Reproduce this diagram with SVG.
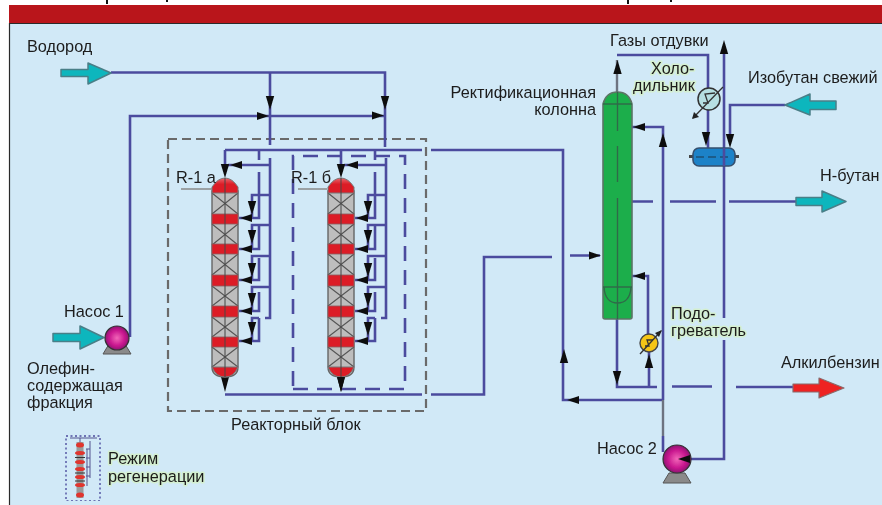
<svg xmlns="http://www.w3.org/2000/svg" width="882" height="505" viewBox="0 0 882 505">
<style>
text{font-family:"Liberation Sans",Arial,sans-serif;font-size:16.300px;fill:#1c1c1c}
.halo{paint-order:stroke;stroke:#d4efd0;stroke-width:3px;stroke-linejoin:round}
.p{fill:none;stroke:#4c4c9e;stroke-width:2.6}
.pg{fill:none;stroke:#6d7380;stroke-width:2.4}
.d{fill:none;stroke:#4c4c9e;stroke-width:2.6;stroke-dasharray:15 9}
.box{fill:none;stroke:#6a6a6a;stroke-width:2.2;stroke-dasharray:9 5}
.cy{fill:#10b6bd;stroke:#4a7f88;stroke-width:1.5;stroke-linejoin:round}
.rd{fill:#ee2024;stroke:#8a6a6a;stroke-width:1.2;stroke-linejoin:round}
.vr{fill:#dc1f28;stroke:#8a5a5a;stroke-width:.8}
.gr{fill:#bdbdbd;stroke:#666;stroke-width:1.4}
.x{fill:none;stroke:#555;stroke-width:1.1}
.g{fill:#1fae4b;stroke:#5c7466;stroke-width:1.6}
.in{fill:none;stroke:#2f6b4a;stroke-width:1.4}
.ink{fill:none;stroke:#333;stroke-width:1.3}
.base{fill:#8a8a8a;stroke:#555;stroke-width:1}
</style>
<defs>
<filter id="soft" x="0" y="0" width="100%" height="100%" filterUnits="objectBoundingBox"><feGaussianBlur stdDeviation="0.45"/></filter>
<path id="a" d="M0,0 L-12,-4 L-12,4 Z" fill="#111"/>
<path id="sm" d="M0,0 L-14,-4.200 L-14,4.200 Z" fill="#111"/>
<radialGradient id="pm" cx="0.5" cy="0.5" r="0.55"><stop offset="0" stop-color="#f266b8"/><stop offset="0.6" stop-color="#c8158e"/><stop offset="1" stop-color="#7a1068"/></radialGradient>
<linearGradient id="dome" x1="0" y1="0" x2="0" y2="1"><stop offset="0" stop-color="#e86a70"/><stop offset="0.4" stop-color="#dc1f28"/></linearGradient>
<g id="reactor">
<path class="gr" d="M-13,13 H13 V189 Q13,199 0,199 Q-13,199 -13,189 Z"/>
<path class="x" d="M-13,15 L13,36 M13,15 L-13,36 M-13,46 L13,67 M13,46 L-13,67 M-13,76 L13,97 M13,76 L-13,97 M-13,108 L13,128 M13,108 L-13,128 M-13,139 L13,159 M13,139 L-13,159 M-13,169 L13,189 M13,169 L-13,189"/>
<rect class="vr" x="-13" y="36" width="26" height="10"/>
<rect class="vr" x="-13" y="66" width="26" height="10"/>
<rect class="vr" x="-13" y="97" width="26" height="11"/>
<rect class="vr" x="-13" y="128" width="26" height="11"/>
<rect class="vr" x="-13" y="159" width="26" height="10"/>
<path fill="url(#dome)" stroke="#777" d="M-13,15 V9 Q-7,0 0,0 Q7,0 13,9 V15 Z"/>
<path fill="#dc1f28" stroke="#777" d="M-13,189 H13 Q9,199 0,199 Q-9,199 -13,189 Z"/>
<path fill="none" stroke="#444" stroke-width="1" d="M0,0 V199"/>
</g>
<g id="pipes">
<path class="p" d="M270,158 V318 H265 M270,165 H228 M259,150 V160"/>
<path class="p" d="M270,195 H252 V218 M259,172 V218 H239"/>
<path class="p" d="M270,225 H252 V249 M259,225 V249 H239"/>
<path class="p" d="M270,256 H252 V280 M259,258 V280 H239"/>
<path class="p" d="M270,287 H252 V311 M259,292 V311 H239"/>
<path class="p" d="M259,318 H252 V341 M259,318 V341 H239"/>
<use href="#a" transform="translate(230,165) rotate(180)"/>
<use href="#sm" transform="translate(252,215) rotate(90)"/>
<use href="#sm" transform="translate(252,244) rotate(90)"/>
<use href="#sm" transform="translate(252,277) rotate(90)"/>
<use href="#sm" transform="translate(252,307) rotate(90)"/>
<use href="#sm" transform="translate(252,336) rotate(90)"/>
<use href="#a" transform="translate(240,218) rotate(180)"/>
<use href="#a" transform="translate(240,249) rotate(180)"/>
<use href="#a" transform="translate(240,280) rotate(180)"/>
<use href="#a" transform="translate(240,311) rotate(180)"/>
<use href="#a" transform="translate(240,341) rotate(180)"/>
<path class="p" d="M225,150 V172"/>
<use href="#sm" transform="translate(225,178) rotate(90)"/>
<path d="M225,392 L221,377 H229 Z" fill="#111"/>
</g>
<path id="pumpbody" class="base" d="M-14,20 L-8,10 H8 L14,20 Z"/>
</defs>

<rect width="882" height="505" fill="#ffffff"/>
<rect x="9" y="5" width="873" height="18" fill="#b9151b"/>
<rect x="9" y="23" width="873" height="482" fill="#d1e9f7"/>
<path d="M9.500,505 V23.500 H882" fill="none" stroke="#2a2a2a" stroke-width="1.2"/>
<g fill="#111"><rect x="106" y="0" width="2" height="4"/><rect x="166" y="0" width="2" height="2"/><rect x="627" y="0" width="2" height="4"/><rect x="670" y="0" width="2" height="2"/></g>

<g filter="url(#soft)">
<g id="reactor-block-frame">
<rect class="box" x="168" y="139" width="258" height="272"/>
<path class="d" d="M293,389 H405 V156 H293 Z"/>
</g>

<g id="connectors">
<path class="p" d="M111,72.500 H385 V147 M270,72.500 V145"/>
<path class="p" d="M130,337 V116 H385"/>
<path class="p" d="M225,150 H422 M431,150 H563 V400 H663"/>
<path class="p" d="M225,394.500 H422 M431,394.500 H484 V257 H552 M570,255.500 H600"/>
<use href="#pipes"/>
<use href="#pipes" transform="translate(116,0)"/>
<use href="#sm" transform="translate(270,110) rotate(90)"/>
<use href="#sm" transform="translate(385,110) rotate(90)"/>
<use href="#a" transform="translate(269,116)"/>
<use href="#a" transform="translate(384,115.500)"/>
<use href="#a" transform="translate(601,255.500)"/>
<use href="#a" transform="translate(567,400) rotate(180)"/>
<use href="#sm" transform="translate(564,349) rotate(-90)"/>
<path class="pg" d="M617,92 V60"/>
<path class="p" d="M617,55 H708 V148"/>
<use href="#sm" transform="translate(617.500,60) rotate(-90)"/>
<use href="#sm" transform="translate(706,146) rotate(90)"/>
<path class="p" d="M724,52 V318 M724,340 V459 H690"/>
<use href="#sm" transform="translate(724,40) rotate(-90)"/>
<path class="p" d="M785,105 H730 V136"/>
<use href="#sm" transform="translate(730,148) rotate(90)"/>
<path class="p" d="M632,127 H663 V400"/>
<path class="pg" d="M663,400 V436"/>
<path class="p" d="M663,436 V452"/>
<use href="#a" transform="translate(633,127) rotate(180)"/>
<use href="#sm" transform="translate(663,133) rotate(-90)"/>
<path class="p" d="M617,319 V387 H657 M672,386.500 H712 M736,387 H793"/>
<use href="#sm" transform="translate(617,385) rotate(90)"/>
<path class="p" d="M649,387 V350 M648,335 V276 H632"/>
<use href="#sm" transform="translate(649,354) rotate(-90)"/>
<use href="#a" transform="translate(633,276) rotate(180)"/>
<path class="p" d="M632,201.500 H653 M670,201.500 H716 M729,201.500 H796"/>
</g>

<g id="hydrogen-in"><path class="cy" d="M61,69.500 H88 V63 L111,73 L88,84 V76.500 H61 Z"/></g>
<g id="olefin-in"><path class="cy" d="M53,333.500 H80 V326 L104,337.500 L80,349 V341.500 H53 Z"/></g>
<g id="isobutane-in"><path class="cy" d="M836,101 H810 V94 L785,105 L810,115 V109.500 H836 Z"/></g>
<g id="butane-out"><path class="cy" d="M796,197.500 H822 V191 L846,201.500 L822,212 V205.500 H796 Z"/></g>
<g id="alkylate-out"><path class="rd" d="M793,384 H819 V378 L844,388 L819,398 V392 H793 Z"/></g>

<g id="pump-1">
<use href="#pumpbody" transform="translate(117,334)"/>
<circle cx="117" cy="338" r="12" fill="url(#pm)" stroke="#333" stroke-width="1.2"/>
</g>
<g id="pump-2">
<use href="#pumpbody" transform="translate(677,463)"/>
<circle cx="677" cy="459" r="14" fill="url(#pm)" stroke="#333" stroke-width="1.2"/>
<use href="#a" transform="translate(678,459) rotate(180)"/>
</g>

<g id="reactor-1"><use href="#reactor" x="225" y="178"/><path d="M181,189 H212" stroke="#888" stroke-width="1.5" fill="none"/></g>
<g id="reactor-2"><use href="#reactor" x="341" y="178"/><path d="M298,189 H327" stroke="#888" stroke-width="1.5" fill="none"/><path d="M341,392 L337,377 H345 Z" fill="#111"/></g>

<g id="column">
<path class="g" d="M603,104 Q606,92 617.500,92 Q629,92 632,104 V317 Q632,319 630,319 H605 Q603,319 603,317 Z"/>
<path class="in" d="M603,104 H632 M603,287 H632 M604,287 Q605,303 617.500,303 Q630,303 631,287"/>
<path class="in" d="M617.500,92 V131 M617.500,146 V182 M617.500,198 V319"/>
</g>
<g id="condenser">
<circle cx="709" cy="99" r="11" fill="#b6dfe2" stroke="#333" stroke-width="1.500"/>
<path class="ink" d="M703,103 L708,103 L705,94 L715,93"/>
<path class="ink" d="M693,118 L723,87"/>
<path d="M692,119 L694,112 L699,117 Z" fill="#222"/>
</g>
<g id="reflux-drum">
<rect x="689" y="155" width="4" height="3" fill="#444"/><rect x="735" y="155" width="4" height="3" fill="#444"/>
<rect x="693" y="148" width="42" height="18" rx="6" fill="#1f82c8" stroke="#34506e" stroke-width="1.6"/>
<path d="M696,157 H732" stroke="#1a4f74" stroke-width="1.6" stroke-dasharray="8 4" fill="none"/>
<path class="p" d="M724,148 V166"/>
</g>
<g id="heater">
<circle cx="649" cy="343" r="9" fill="#f5c518" stroke="#444" stroke-width="1.400"/>
<path class="ink" d="M645,346 L649,346 L647,340 L653,340"/>
<path class="ink" d="M640,354 L661,331"/>
<path d="M662,330 L655,333 L659,337 Z" fill="#222"/>
</g>

<g id="legend">
<rect x="66" y="436" width="34" height="65" fill="none" stroke="#4c4c9e" stroke-width="1.4" stroke-dasharray="2 2.500"/>
<rect x="76.500" y="442" width="7" height="56" fill="#9a9a9a"/>
<g fill="#e0352f">
<ellipse cx="80" cy="445" rx="4" ry="2.500"/><ellipse cx="80" cy="453" rx="5" ry="2"/><ellipse cx="80" cy="462" rx="5" ry="2"/><ellipse cx="80" cy="469" rx="5" ry="2"/><ellipse cx="80" cy="477" rx="5" ry="2"/><ellipse cx="80" cy="485" rx="5" ry="2"/><ellipse cx="80" cy="495" rx="4" ry="2.500"/>
</g>
<path d="M75,457.500 H85 M75,473 H85 M75,481 H85" stroke="#333" stroke-width="1.2"/>
<path d="M70,438 H97 M80,438 V442 M90,441 V478 M86,449 H90 M86,458 H90 M86,467 H90 M86,476 H90 M87,449 V486" stroke="#55558f" stroke-width="1" fill="none"/>
</g>

<g id="labels">
<text x="27" y="52">Водород</text>
<text x="64" y="317">Насос 1</text>
<text x="27" y="374">Олефин-</text>
<text x="27" y="391">содержащая</text>
<text x="27" y="408">фракция</text>
<text x="176" y="183">R-1 а</text>
<text x="291" y="183">R-1 б</text>
<text x="231" y="430">Реакторный блок</text>
<text class="halo" x="108" y="464">Режим</text>
<text class="halo" x="108" y="482">регенерации</text>
<text x="596" y="98" text-anchor="end">Ректификационная</text>
<text x="596" y="115" text-anchor="end">колонна</text>
<text x="610" y="46">Газы отдувки</text>
<text class="halo" x="651" y="74">Холо-</text>
<text class="halo" x="633" y="91">дильник</text>
<text x="748" y="83">Изобутан свежий</text>
<text x="820" y="181">Н-бутан</text>
<text class="halo" x="671" y="319">Подо-</text>
<text class="halo" x="671" y="336">греватель</text>
<text x="781" y="368">Алкилбензин</text>
<text x="597" y="454">Насос 2</text>
</g>
</g>
</svg>
